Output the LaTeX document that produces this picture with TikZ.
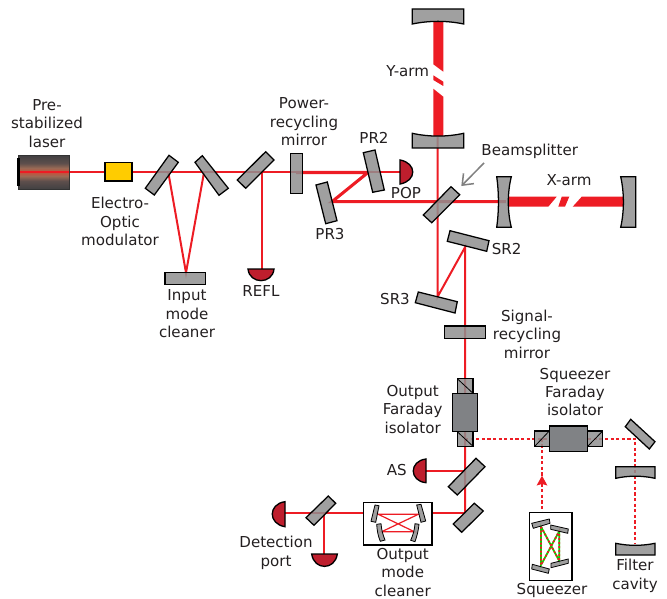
\documentclass[tikz,border=0pt]{standalone}
\usepackage{fontspec}
\setmainfont{DejaVu Sans}
\usetikzlibrary{arrows.meta}
\definecolor{beam}{HTML}{ED1C24}
\definecolor{mirgrey}{HTML}{8F8F8F}
\definecolor{fardark}{HTML}{808285}
\definecolor{pd}{HTML}{BE1E2D}
\definecolor{eom}{HTML}{FFCC00}
\definecolor{txt}{HTML}{231F20}
\definecolor{lasd}{HTML}{414042}
\definecolor{lasm}{HTML}{5E4F4C}
\definecolor{lasn}{HTML}{9A6A55}
\definecolor{lasr}{HTML}{C8503C}
\pgfdeclareverticalshading{lasershade}{100bp}{
  color(0bp)=(lasd); color(25bp)=(lasd); color(37bp)=(lasm); color(44bp)=(lasn); color(50bp)=(lasr); color(56bp)=(lasn); color(63bp)=(lasm); color(75bp)=(lasd); color(100bp)=(lasd)}
\tikzset{
  mir/.style={draw=black,line width=0.95pt,fill=mirgrey,fill opacity=.85,line join=miter},
  thinmir/.style={draw=black,line width=0.6pt,fill=mirgrey,fill opacity=.85},
  thinbeam/.style={draw=beam,line width=1.5pt},
  midbeam/.style={draw=beam,line width=2.3pt},
  hairbeam/.style={draw=beam,line width=0.9pt},
  dotbeam/.style={draw=beam,line width=1.7pt,dash pattern=on 2.4pt off 1.8pt},
  diode/.style={draw=black,line width=1pt,fill=pd},
  lbl/.style={font=\fontsize{11.3pt}{13.8pt}\selectfont,text=txt,inner sep=0pt,align=center},
  fdbody/.style={draw=black,line width=0.95pt,fill=fardark},
  cube/.style={draw=black,line width=0.8pt,fill=mirgrey,fill opacity=.85},
}
\begin{document}
\begin{tikzpicture}[x=0.75pt,y=-0.75pt]
\useasboundingbox (0,0) rectangle (667,599);
% --- beam coordinates
\coordinate (lasL) at (20,172.5);
\coordinate (bsA) at (168.3,172.5);
\coordinate (imcT) at (186,272.7);
\coordinate (bsB) at (204,172.5);
\coordinate (reflS) at (261.7,172.5);
\coordinate (reflD) at (261.7,269);
\coordinate (prm) at (296,172.5);
\coordinate (pr2) at (368,172.5);
\coordinate (pop) at (400,172.5);
\coordinate (pr3) at (332,201.7);
\coordinate (bs) at (437.7,201.7);
\coordinate (itmx) at (506,201.7);
\coordinate (itmyb) at (437.7,137);
\coordinate (sr3) at (437.7,296.5);
\coordinate (sr2) at (465,247.3);
\coordinate (asS) at (465,470.7);
\coordinate (asD) at (426,470.7);
\coordinate (low) at (465,513.3);
\coordinate (omcR) at (432,513.3);
\coordinate (omcL) at (363.3,513.3);
\coordinate (detS) at (324.3,513.3);
\coordinate (detL) at (285,513.3);
\coordinate (detD) at (324.3,554);
\coordinate (ofiT) at (465,438.7);
\coordinate (sqzT) at (542,438.7);
\coordinate (fcS) at (635.3,438.7);
\coordinate (fcE) at (635.3,544);
\coordinate (sqzB) at (542,512);
% --- beams
\draw[thinbeam] (lasL) -- (reflS) -- (prm);
\draw[thinbeam] (bsA) -- (imcT) -- (bsB);
\draw[thinbeam] (reflS) -- (reflD);
\draw[midbeam,line join=miter] (prm) -- (pr2) -- (pr3) -- (bs) -- (itmx);
\draw[thinbeam] (pr2) -- (pop);
\draw[thinbeam] (itmyb) -- (sr3) -- (sr2) -- (asS) -- (low);
\draw[thinbeam] (asS) -- (asD);
\draw[thinbeam] (low) -- (omcR) (omcL) -- (detL);
\draw[thinbeam] (detS) -- (detD);
\draw[dotbeam] (ofiT) -- (fcS) -- (fcE);
\draw[dotbeam] (sqzT) -- (sqzB);
\fill[beam] (542,475.7) -- (547.4,485.5) -- (542,484) -- (536.6,485.5) -- cycle;
% --- X arm
\fill[beam] (508,196.7) -- (556.7,196.7) -- (548.3,206.7) -- (508,206.7) -- cycle;
\fill[beam] (561.7,196.7) -- (569.3,196.7) -- (565,206.7) -- (558.3,206.7) -- cycle;
\fill[beam] (581.7,196.7) -- (623.5,196.7) -- (623.5,206.7) -- (572.7,206.7) -- cycle;
% --- Y arm
\fill[beam] (433.3,21) -- (443.3,21) -- (443.3,71.7) -- (433.3,64.3) -- cycle;
\fill[beam] (433.3,75.3) -- (443.3,81.7) -- (443.3,86) -- (433.3,80) -- cycle;
\fill[beam] (433.3,88.7) -- (443.3,96.7) -- (443.3,136.5) -- (433.3,136.5) -- cycle;
% --- laser
\shade[shading=lasershade] (18.5,155.3) rectangle (69,189);
\draw[draw=black!80,line width=.75pt] (18.5,155.3) rectangle (69,189);
\fill[black] (17,158) rectangle (19.5,186);
\draw[beam,line width=1.5pt] (20,172.5) -- (69,172.5);
\draw[fill=eom,draw=black,line width=.95pt] (105,162.3) rectangle (132,181);
% --- input optics
\draw[mir] (169,155.3) -- (178.3,162.3) -- (154.3,195) -- (145.3,188.3) -- cycle;
\draw[mir] (202.3,155.7) -- (195,162.3) -- (219,195.3) -- (228.3,188.3) -- cycle;
\draw[mir] (265.7,151.7) -- (274,160) -- (245.7,188.3) -- (237.3,180) -- cycle;
\draw[mir] (165,272.7) rectangle (205.3,284.7);
\draw[mir] (290.3,153.3) rectangle (302.3,193.3);
\draw[mir] (363.3,152.7) -- (375,150) -- (384.3,190) -- (372.7,192.3) -- cycle;
\draw[mir] (316,185) -- (327.3,182) -- (337,220.7) -- (325.7,223.7) -- cycle;
\draw[mir] (451,186.7) -- (459.7,194.7) -- (431.7,222.7) -- (423.3,215) -- cycle;
% --- curved test masses
\draw[mir] (412.3,133.3) .. controls (429,137) and (447,137) .. (463.7,133.3) -- (463.7,148) -- (412.3,148) -- cycle;
\draw[mir] (412.3,9) -- (463.7,9) -- (463.7,24) .. controls (447,20.5) and (429,20.5) .. (412.3,24) -- cycle;
\draw[mir] (496.7,176.7) -- (511.3,176.7) .. controls (507.3,193) and (507.3,211) .. (511.3,227.3) -- (496.7,227.3) .. controls (499,211) and (499,193) .. (496.7,176.7) -- cycle;
\draw[mir] (620.7,176.7) -- (635.7,176.7) -- (635.7,227.3) -- (620.7,227.3) .. controls (624.3,211) and (624.3,193) .. (620.7,176.7) -- cycle;
% --- signal recycling
\draw[mir] (450,230.7) -- (489,240.7) -- (486.7,251.3) -- (447.3,241.3) -- cycle;
\draw[mir] (418.3,292) -- (457.3,301.7) -- (455,313) -- (415.3,302.7) -- cycle;
\draw[mir] (444.7,326) rectangle (485.7,338.3);
% --- output Faraday
\draw[cube] (457.3,378.7) rectangle (473,393.3);
\draw[draw=black,line width=.6pt] (457.3,378.7) -- (473,393.3);
\draw[cube] (457.3,431.7) rectangle (473,446.3);
\draw[draw=black,line width=.6pt] (457.3,431.7) -- (473,446.3);
\draw[fdbody] (452.3,393.3) rectangle (477.7,431.7);
% --- squeezer Faraday
\draw[cube] (534.7,431) rectangle (549.3,446.3);
\draw[draw=black,line width=.6pt] (534.7,446.3) -- (549.3,431);
\draw[cube] (587.7,431) rectangle (602.7,446.3);
\draw[draw=black,line width=.6pt] (587.7,446.3) -- (602.7,431);
\draw[fdbody] (549.3,426) rectangle (587.7,451.3);
% --- filter cavity
\draw[mir] (630.7,419.3) -- (655,441.7) -- (649.3,449) -- (625.3,426.7) -- cycle;
\draw[mir] (615.7,466.7) -- (655,466.7) -- (655,478.3) .. controls (642,475.5) and (628.5,475.5) .. (615.7,478.3) -- cycle;
\draw[mir] (615.7,543.3) .. controls (628.5,546) and (642,546) .. (655,543.3) -- (655,555) -- (615.7,555) -- cycle;
% --- output mirrors
\draw[mir] (476,458.3) -- (485,466.7) -- (457.3,495) -- (448.3,486.7) -- cycle;
\draw[mir] (474.3,503.3) -- (483.3,511) -- (461.7,532.3) -- (453.3,524) -- cycle;
\draw[mir] (328.3,496) -- (335.7,503.3) -- (314,525.3) -- (306,517.7) -- cycle;
% --- OMC
\draw[draw=black,line width=.8pt,fill=white] (363.3,502.3) rectangle (432,545);
\coordinate (oa) at (378.3,514.3);
\coordinate (ob) at (418.3,514.3);
\coordinate (oc) at (381.7,531.7);
\coordinate (od) at (414.3,531.7);
\draw[hairbeam] (oa) -- (ob) -- (oc) -- (od) -- cycle;
\draw[thinmir] (375,505) -- (379,505.7) -- (375.7,522.3) -- (371,521.3) -- cycle;
\draw[thinmir] (416.7,505) -- (421,504.3) -- (425.7,521) -- (421,522.3) -- cycle;
\draw[thinmir] (376.7,524.3) -- (381,523.7) .. controls (381.5,530) and (383,535) .. (385,540) -- (380.3,541.3) .. controls (378,536) and (377,530) .. (376.7,524.3) -- cycle;
\draw[thinmir] (415,523.7) -- (419,524.3) .. controls (418.5,530) and (417,536) .. (415,541.7) -- (410.7,540.3) .. controls (413,535) and (414.5,530) .. (415,523.7) -- cycle;
% --- squeezer
\draw[draw=black,line width=.8pt,fill=white] (529.3,512.3) rectangle (572,580.3);
\coordinate (sa) at (541,526.7);
\coordinate (sb) at (541,565);
\coordinate (sc) at (559.3,531);
\coordinate (sd) at (559.3,561);
\draw[draw=green!85!black,line width=1.3pt] (sa) -- (sb) -- (sc) -- (sd) -- cycle;
\draw[draw=beam,line width=1.3pt,dash pattern=on 1.5pt off 1.5pt] (sa) -- (sb) -- (sc) -- (sd) -- cycle;
\draw[thinmir] (531.7,523.3) -- (549.3,519) -- (550,523.3) -- (533.3,528.3) -- cycle;
\draw[thinmir] (550.7,525) -- (568.3,529) -- (567.7,533.3) -- (550.7,529.3) -- cycle;
\draw[thinmir] (532.3,564.3) -- (549.3,569) -- (548.3,573.3) -- (531.7,569) -- cycle;
\draw[thinmir] (551,563.3) -- (568.3,559) -- (568.3,563.3) -- (551,567.7) -- cycle;
% --- photodiodes
\draw[diode] (248,269) -- (274,269) .. controls (272.5,284.5) and (249.5,284.5) .. (248,269) -- cycle;
\draw[diode] (400,160) .. controls (417,163) and (417,181) .. (400,184) -- cycle;
\draw[diode] (426,459) .. controls (409,461) and (409,481) .. (426,482.7) -- cycle;
\draw[diode] (285,501.7) .. controls (268,504) and (268,524) .. (285,526.7) -- cycle;
\draw[diode] (311.7,554) -- (337.3,554) .. controls (335,570.5) and (314,570.5) .. (311.7,554) -- cycle;
% --- arrow
\coordinate (bstail) at (484,163);
\coordinate (bstip) at (461.3,186);
\draw[draw=gray,line width=1.15pt,-{Straight Barb[length=7pt,width=11pt]}] (bstail) -- (bstip);
% --- labels
\node[lbl] (tlaser) at (47,123.5) {Pre-\\stabilized\\laser};
\node[lbl] (teom) at (120,221.5) {Electro-\\Optic\\modulator};
\node[lbl] (timc) at (187,314) {Input\\mode\\cleaner};
\node[lbl] (trefl) at (261,290.7) {REFL};
\node[lbl] (tprm) at (304,121.7) {Power-\\recycling\\mirror};
\node[lbl] (tpr2) at (374,138) {PR2};
\node[lbl] (tpop) at (406,192.7) {POP};
\node[lbl] (tpr3) at (330,234) {PR3};
\node[lbl] (tyarm) at (407.7,70.7) {Y-arm};
\node[lbl] (txarm) at (569,180) {X-arm};
\node[lbl] (tbs) at (529.7,151) {Beamsplitter};
\node[lbl] (tsr2) at (506.7,249.3) {SR2};
\node[lbl] (tsr3) at (395,299.3) {SR3};
\node[lbl] (tsrm) at (527,334) {Signal-\\recycling\\mirror};
\node[lbl] (tofi) at (412.7,409.5) {Output\\Faraday\\isolator};
\node[lbl] (tsfi) at (575,392) {Squeezer\\Faraday\\isolator};
\node[lbl] (tas) at (396.7,470) {AS};
\node[lbl] (tdet) at (276,553) {Detection\\port};
\node[lbl] (tomc) at (402.7,572.5) {Output\\mode\\cleaner};
\node[lbl] (tsqz) at (552,590) {Squeezer};
\node[lbl] (tfc) at (635,576) {Filter\\cavity};
\end{tikzpicture}
\end{document}
